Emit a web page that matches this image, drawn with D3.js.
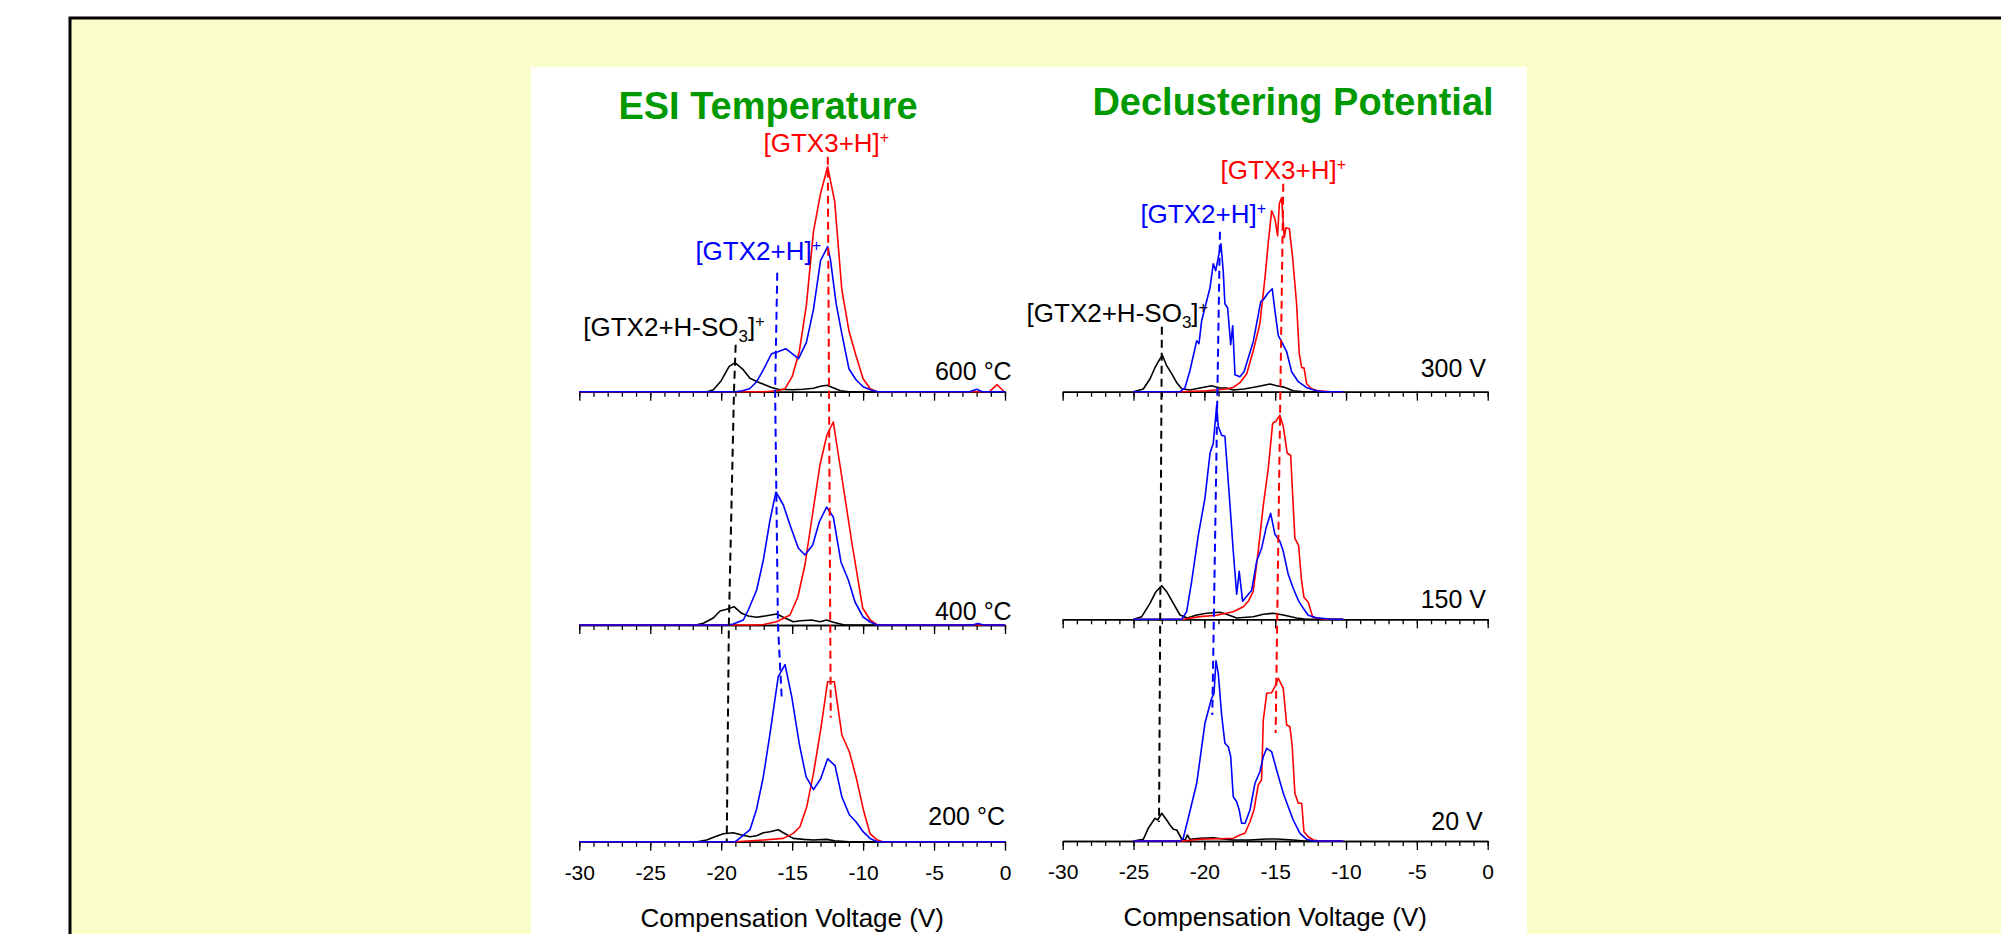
<!DOCTYPE html>
<html>
<head>
<meta charset="utf-8">
<script src="https://cdn.jsdelivr.net/npm/d3@7"></script>
<style>
  body { margin: 0; background: #fff; }
  svg { display: block; font-family: "Liberation Sans", Arial, Helvetica, sans-serif; }
</style>
</head>
<body>
<svg id="chart" width="2001" height="934"></svg>
<script>
// ---- data: compensation voltage (V) vs ion intensity (a.u.) ----

// ESI temperature series
const esi600Gtx3 = [[-30,0],[-17,0],[-16,1],[-15.5,3],[-15,15],[-14.5,40],[-14,86],[-13.5,160],[-13,198],[-12.5,225],[-12,190],[-11.5,102],[-11,61],[-10.5,36],[-10,13],[-9.5,3],[-9,0],[-1.1,0],[-0.55,7],[-0.05,0],[0,0]];
const esi600Gtx2 = [[-30,0],[-19,0],[-18.5,1],[-18,3],[-17.5,10],[-17.1,20],[-16.45,38],[-16,40],[-15.45,43],[-14.55,33],[-14,49],[-13.5,82],[-13,131],[-12.5,145],[-12.3,132],[-11.9,88],[-11.5,58],[-11,23],[-10.5,12],[-10,5],[-9.5,2],[-9,0],[-2.5,0],[-2,2.5],[-1.6,0],[0,0]];
const esi600So3 = [[-30,0],[-21,0],[-20.55,2],[-20,11],[-19.45,25],[-19.03,29],[-18.45,22],[-17.97,13.5],[-17.3,9],[-16.5,4.5],[-16,2.5],[-15,2],[-14.2,2.5],[-13.5,3.5],[-13,5.5],[-12.55,6.5],[-12.2,4.5],[-11.6,1],[-11,0],[0,0]];

const esi400Gtx3 = [[-30,0],[-17.5,0],[-17,0.5],[-16.1,3.3],[-15.15,10],[-14.6,28],[-14.1,60],[-13.55,112],[-13.04,160],[-12.55,190],[-12.1,203],[-11.63,160],[-10.8,83],[-10.03,17],[-9.5,5],[-9,0],[0,0]];
const esi400Gtx2 = [[-30,0],[-19.5,0],[-19.15,1],[-18.44,5],[-18.09,15],[-17.5,35],[-17.03,65],[-16.56,105],[-16.14,133],[-15.62,120],[-15.15,100],[-14.57,77],[-14.1,70],[-13.55,80],[-13.09,103],[-12.57,118],[-12.1,108],[-11.56,63],[-11.04,45],[-10.57,23],[-10,8],[-9.5,3],[-9,0],[-2.3,0],[-1.9,1.5],[-1.5,0],[0,0]];
const esi400So3 = [[-30,0],[-21.8,0],[-21.26,1.7],[-20.56,7],[-20.08,14],[-19.61,15.7],[-19.1,18.3],[-18.56,11.7],[-18.09,9],[-17.5,7.7],[-16.91,9],[-16.09,11],[-15.62,7.7],[-14.92,3.3],[-14.4,4.3],[-13.62,5],[-13.04,3.3],[-12.57,5],[-12.1,2.7],[-11.3,0],[0,0]];

const esi200Gtx3 = [[-30,0],[-19,0],[-17,1.7],[-15.62,3.3],[-14.92,8.3],[-14.45,15],[-13.97,35],[-13.5,68],[-12.99,112],[-12.5,160],[-12.03,160],[-11.5,107],[-10.97,90],[-10.5,65],[-9.98,32],[-9.51,8],[-9.04,2],[-8.6,0],[0,0]];
const esi200Gtx2 = [[-30,0],[-19,0],[-18.56,5],[-17.97,12],[-17.5,33],[-17.03,65],[-16.56,108],[-15.98,165],[-15.5,177],[-15.03,145],[-14.5,98],[-14.02,65],[-13.5,52],[-12.99,63],[-12.5,83],[-11.98,76],[-11.5,45],[-10.97,27],[-10.5,20],[-10,10],[-9.51,3.3],[-9,0],[0,0]];
const esi200So3 = [[-30,0],[-21.7,0],[-21.02,1.7],[-20.44,5],[-19.85,8],[-19.15,9],[-18.56,6.7],[-17.97,5],[-17.5,6],[-17.03,9],[-16.56,10],[-15.98,12],[-15.5,8],[-14.92,3.3],[-14.2,2.3],[-13.5,1.7],[-12.57,2.3],[-12,1],[-11,0],[0,0]];

// Declustering potential series
const dp300Gtx3 = [[-25,0],[-21.5,0],[-19.84,1],[-18.43,2.7],[-17.96,4.3],[-17.49,9],[-17.01,18],[-16.55,41],[-16.08,68],[-15.72,114],[-15.49,149],[-15.25,181],[-15.02,173],[-14.83,156],[-14.71,188],[-14.55,194],[-14.36,154],[-14.24,164],[-14,163],[-13.77,134],[-13.49,88],[-13.3,38],[-13.13,24],[-12.97,24],[-12.78,8],[-12.43,3],[-12,1],[-11,0],[-10.2,0]];
const dp300Gtx2 = [[-25,0],[-21.7,0],[-21.37,4],[-21.02,21],[-20.54,51],[-20.38,48],[-20.19,71],[-19.89,88],[-19.6,104],[-19.37,128],[-19.2,121],[-19.02,134],[-18.83,148],[-18.67,121],[-18.55,88],[-18.36,84],[-18.14,47],[-18,66],[-17.84,17],[-17.49,15],[-17.2,20],[-16.55,50],[-16.02,90],[-15.84,92],[-15.49,99],[-15.21,103],[-15.02,81],[-14.78,56],[-14.55,50],[-14.19,40],[-13.84,20],[-13.37,10],[-12.78,4],[-12.1,1],[-11.5,0],[-10.2,0]];
const dp300So3 = [[-25,0],[-24.31,2.7],[-23.84,12.7],[-23.49,24],[-23.13,33],[-22.95,36],[-22.66,26],[-22.31,18],[-21.95,9],[-21.6,3],[-21.02,1.7],[-20.31,3.7],[-19.49,6],[-18.9,3.7],[-18.43,3.7],[-17.96,1.7],[-17.2,2.7],[-16.31,5],[-15.37,7.7],[-14.9,6],[-14.31,4.3],[-13.73,1],[-13,0],[-10.2,0]];

const dp150Gtx3 = [[-25,0],[-21.5,0],[-20.31,2.7],[-19.13,4],[-17.96,7.6],[-17.25,12.6],[-16.9,18],[-16.55,28],[-16.2,68],[-15.84,114],[-15.49,151],[-15.18,196],[-14.95,198],[-14.67,204],[-14.43,193],[-14.15,166],[-13.91,164],[-13.61,81],[-13.35,74],[-13.15,40],[-12.97,22],[-12.67,17],[-12.35,2],[-11.5,0],[-10.2,0]];
const dp150Gtx2 = [[-25,0],[-21.6,0],[-21.25,7.6],[-20.9,37.6],[-20.43,84],[-19.96,121],[-19.6,166],[-19.37,176],[-19.13,214],[-19.02,193],[-18.78,184],[-18.55,183],[-18.19,114],[-17.96,68],[-17.72,25],[-17.54,48],[-17.3,18],[-17.01,23],[-16.66,29],[-16.31,58],[-15.96,71],[-15.65,91],[-15.32,106],[-15.02,85],[-14.67,78],[-14.43,68],[-14.08,45],[-13.73,31],[-13.37,19],[-13.02,11],[-12.67,4],[-12.1,1.5],[-11,0],[-10.2,0]];
const dp150So3 = [[-25,0],[-24.42,2.6],[-23.84,16],[-23.42,27.6],[-23.01,33.6],[-22.66,27.6],[-22.19,16],[-21.72,4.3],[-21.2,1.3],[-20.54,4.3],[-19.84,6],[-18.9,7],[-18.43,5],[-17.72,1.3],[-16.55,2.6],[-15.84,5],[-15.14,6],[-14.43,4.3],[-13.49,1.3],[-12.8,0],[-10.2,0]];

const dp20Gtx3 = [[-25,0],[-21.49,0],[-20.31,1.7],[-18.9,2.3],[-17.96,2.7],[-17.49,6],[-17.13,7.7],[-16.78,19.3],[-16.5,31],[-16.2,56],[-15.96,61],[-15.84,121],[-15.6,147.7],[-15.25,148.3],[-15.02,154.3],[-14.78,162.7],[-14.43,152.7],[-14.19,116],[-13.96,114.3],[-13.8,95],[-13.61,47.7],[-13.37,37.7],[-13.13,37.7],[-12.97,9.3],[-12.67,4.3],[-12.3,1],[-11.8,0],[-10.2,0]];
const dp20Gtx2 = [[-25,0],[-21.72,0],[-21.49,2.7],[-21.14,22.7],[-20.54,57.7],[-19.96,117.7],[-19.49,142.7],[-19.32,147.7],[-19.18,180.3],[-19.02,167.7],[-18.78,126],[-18.55,97.7],[-18.31,94.3],[-18.14,84.3],[-17.96,44.3],[-17.72,39.3],[-17.54,31],[-17.37,17.7],[-17.13,17.7],[-16.78,31],[-16.43,57.7],[-16.08,69.3],[-15.84,84.3],[-15.6,92.7],[-15.25,89.3],[-14.9,71],[-14.43,47.7],[-14.08,34.3],[-13.73,21],[-13.25,7.7],[-12.78,1.7],[-12.3,0],[-10.2,0]];
const dp20So3 = [[-25,0],[-24.31,1.7],[-23.96,12.7],[-23.49,22.7],[-23.3,21],[-23.01,27.7],[-22.66,21],[-22.43,16],[-22.19,11.7],[-21.95,11],[-21.6,2],[-21.35,1],[-21.2,6],[-21.02,1.7],[-20.31,2.7],[-19.37,3.3],[-18.67,2],[-17.96,1],[-16.8,1],[-15.6,2],[-14.9,2],[-13.73,1],[-12.9,0],[-10.2,0]];

// panel labels, top to bottom
const esiLevels = ['600 \u00b0C', '400 \u00b0C', '200 \u00b0C'];
const dpLevels = ['300 V', '150 V', '20 V'];

// peak guide lines: [cv, panel row, intensity above that row's baseline]
const esiGuideGtx3 = [[-12.49,0,235],[-12.28,2,124]];
const esiGuideGtx2 = [[-16.05,0,119],[-16.2,0,0],[-16.0,1,0],[-15.74,2,145]];
const esiGuideSo3 = [[-18.98,0,47],[-19.1,0,0],[-19.46,1,0],[-19.61,2,0]];
const dpGuideGtx3 = [[-14.43,0,208],[-14.97,2,108]];
const dpGuideGtx2 = [[-18.9,0,160],[-19.44,2,126]];
const dpGuideSo3 = [[-23.0,0,65],[-23.2,2,19]];

// axis ticks
const majorTicks = [-30, -25, -20, -15, -10, -5, 0];
const minorTicks = d3.range(-30, 1, 1);

// ---- layout ----
const W = 2001, H = 934;
const COLORS = { gtx3: '#ff0000', gtx2: '#0000ff', so3: '#000000', title: '#009a00' };
const FONT = { title: 38, label: 26, tick: 21, axis: 26 };

const columns = [
  {
    title: 'ESI Temperature', titleX: 768, titleY: 119,
    x0: 579.3, x1: 1005,
    baselines: [391.7, 625, 841.7],
    levels: esiLevels,
    levelOffsets: [[6.7, -11.7], [6.7, -5], [0, -16.7]],
    series: [
      [esi600So3, esi600Gtx3, esi600Gtx2],
      [esi400So3, esi400Gtx3, esi400Gtx2],
      [esi200So3, esi200Gtx3, esi200Gtx2]
    ],
    guides: [esiGuideSo3, esiGuideGtx2, esiGuideGtx3],
    labelCv: [-23.33, -17.39, -12.59],
    labelLift: [8.3, 13, 5]
  },
  {
    title: 'Declustering Potential', titleX: 1293, titleY: 115,
    x0: 1062.7, x1: 1487.7,
    baselines: [391.7, 619.3, 841],
    levels: dpLevels,
    levelOffsets: [[-1.7, -15], [-1.7, -11], [-5, -11]],
    series: [
      [dp300So3, dp300Gtx3, dp300Gtx2],
      [dp150So3, dp150Gtx3, dp150Gtx2],
      [dp20So3, dp20Gtx3, dp20Gtx2]
    ],
    guides: [dpGuideSo3, dpGuideGtx2, dpGuideGtx3],
    labelCv: [-26.15, -20.08, -14.43],
    labelLift: [5, 8.4, 5]
  }
];
const seriesColors = [COLORS.so3, COLORS.gtx3, COLORS.gtx2];
const guideColors = [COLORS.so3, COLORS.gtx2, COLORS.gtx3];

const svg = d3.select('#chart');

// yellow slide frame and white figure sheet
svg.append('rect')
  .attr('x', 70).attr('y', 18)
  .attr('width', W).attr('height', H)
  .attr('fill', '#fafcca')
  .attr('stroke', '#000').attr('stroke-width', 3);

svg.append('rect')
  .attr('x', 531).attr('y', 67)
  .attr('width', 996).attr('height', H)
  .attr('fill', '#fff');

// intensity scale: one unit per pixel of peak height
const y = d3.scaleLinear().domain([0, 250]).range([0, 250]);

columns.forEach(col => {
  const x = d3.scaleLinear().domain([-30, 0]).range([col.x0, col.x1]);
  const g = svg.append('g');

  g.append('text')
    .attr('x', col.titleX).attr('y', col.titleY)
    .attr('text-anchor', 'middle')
    .attr('font-size', FONT.title)
    .attr('font-weight', 'bold')
    .attr('fill', COLORS.title)
    .text(col.title);

  col.baselines.forEach((base, row) => {
    const isBottom = row === col.baselines.length - 1;

    const minorAxis = d3.axisBottom(x)
      .tickValues(minorTicks)
      .tickSize(5).tickSizeOuter(0)
      .tickFormat('');
    const majorAxis = d3.axisBottom(x)
      .tickValues(majorTicks)
      .tickSize(9).tickSizeOuter(0)
      .tickPadding(14)
      .tickFormat(d => isBottom ? String(d) : '');

    const ax = g.append('g').attr('transform', `translate(0,${base})`);
    ax.append('g').call(minorAxis);
    ax.append('g').call(majorAxis);
    ax.selectAll('.domain').attr('stroke-width', 1.5);
    ax.selectAll('.tick line').attr('stroke-width', 1.3);
    ax.selectAll('.tick text')
      .attr('font-size', FONT.tick)
      .attr('font-family', 'Liberation Sans, Arial, sans-serif')
      .attr('fill', '#000');

    // curves
    const line = d3.line()
      .x(d => x(d[0]))
      .y(d => base - y(d[1]));

    col.series[row].forEach((data, i) => {
      g.append('path')
        .datum(data)
        .attr('d', line)
        .attr('fill', 'none')
        .attr('stroke', seriesColors[i])
        .attr('stroke-width', 1.6)
        .attr('stroke-linejoin', 'round');
    });

    // condition label
    const off = col.levelOffsets[row];
    g.append('text')
      .attr('x', col.x1 + off[0])
      .attr('y', base + off[1])
      .attr('text-anchor', 'end')
      .attr('font-size', 25)
      .text(col.levels[row]);

    if (isBottom) {
      g.append('text')
        .attr('x', (col.x0 + col.x1) / 2)
        .attr('y', base + 85)
        .attr('text-anchor', 'middle')
        .attr('font-size', FONT.axis)
        .text('Compensation Voltage (V)');
    }
  });

  // dashed peak guides running through the stacked panels
  const guideLine = d3.line()
    .x(d => x(d[0]))
    .y(d => col.baselines[d[1]] - y(d[2]));

  col.guides.forEach((data, i) => {
    g.append('path')
      .datum(data)
      .attr('d', guideLine)
      .attr('fill', 'none')
      .attr('stroke', guideColors[i])
      .attr('stroke-width', 2)
      .attr('stroke-dasharray', '8,5');

    // ion label above the guide
    const top = data[0];
    const ty = col.baselines[top[1]] - y(top[2]) - col.labelLift[i];
    const t = g.append('text')
      .attr('x', x(col.labelCv[i]))
      .attr('y', ty)
      .attr('text-anchor', 'middle')
      .attr('font-size', FONT.label)
      .attr('fill', guideColors[i]);

    if (i === 0) {
      t.append('tspan').text('[GTX2+H-SO');
      t.append('tspan').attr('dy', 6).attr('font-size', 17).text('3');
      t.append('tspan').attr('dy', -6).text(']');
    } else {
      t.append('tspan').text(i === 1 ? '[GTX2+H]' : '[GTX3+H]');
    }
    t.append('tspan').attr('dy', -9).attr('font-size', 16).text('+');
  });
});
</script>
</body>
</html>
